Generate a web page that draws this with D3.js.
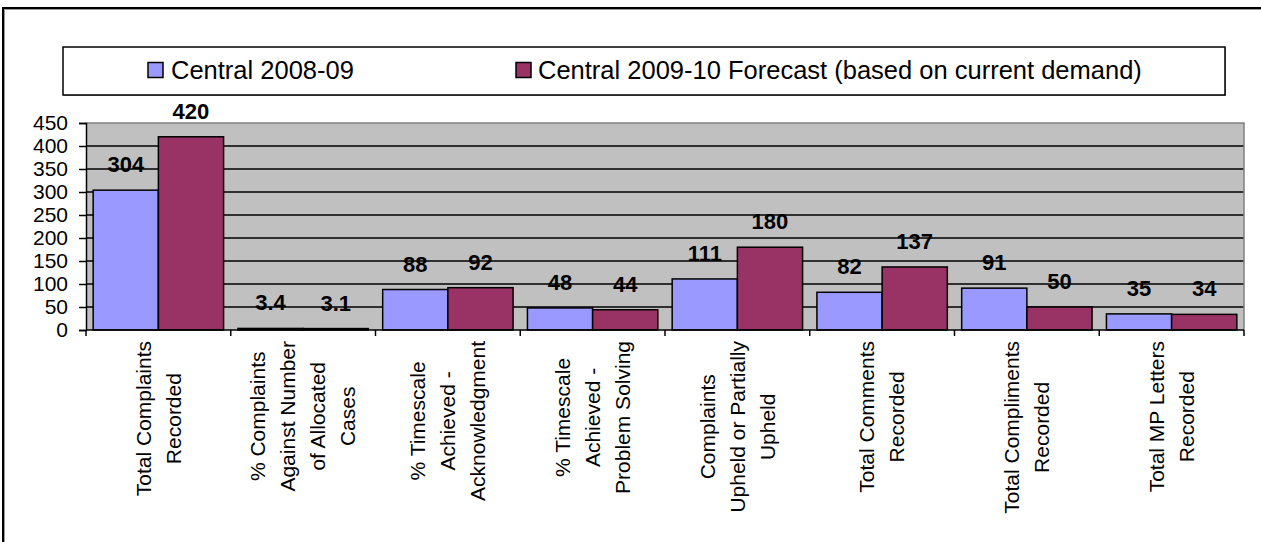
<!DOCTYPE html>
<html>
<head>
<meta charset="utf-8">
<script src="https://cdn.jsdelivr.net/npm/d3@7"></script>
<style>
  body { margin: 0; background: #fff; }
  svg { display: block; font-family: Arial, "Liberation Sans", sans-serif; }
</style>
</head>
<body>
<svg id="chart" width="1261" height="542"></svg>
<script>
const categories = [
    ['Total Complaints', 'Recorded'],
    ['% Complaints', 'Against Number', 'of Allocated', 'Cases'],
    ['% Timescale', 'Achieved -', 'Acknowledgment'],
    ['% Timescale', 'Achieved -', 'Problem Solving'],
    ['Complaints', 'Upheld or Partially', 'Upheld'],
    ['Total Comments', 'Recorded'],
    ['Total Compliments', 'Recorded'],
    ['Total MP Letters', 'Recorded']
];
const seriesNames = ['Central 2008-09', 'Central 2009-10 Forecast (based on current demand)'];
const central0809 = [304, 3.4, 88, 48, 111, 82, 91, 35];
const central0910 = [420, 3.1, 92, 44, 180, 137, 50, 34];
const yTicks = [0, 50, 100, 150, 200, 250, 300, 350, 400, 450];
const colors = ['#9999FF', '#993366'];

const svg = d3.select('#chart');

const plot = {left: 86, right: 1244, top: 123, bottom: 330};

// outer chart frame (only top/left edges fall inside the window)
svg.append('rect')
    .attr('x', 4).attr('y', 9)
    .attr('width', 1400).attr('height', 700)
    .attr('fill', 'none').attr('stroke', '#999').attr('stroke-width', 2);
svg.append('rect')
    .attr('x', 3).attr('y', 8)
    .attr('width', 1400).attr('height', 700)
    .attr('fill', 'none').attr('stroke', '#000').attr('stroke-width', 2);

const x = d3.scaleBand()
    .domain(d3.range(categories.length))
    .range([plot.left, plot.right])
    .paddingInner(0).paddingOuter(0);

const xs = d3.scaleBand()
    .domain([0, 1])
    .range([0, x.bandwidth()])
    .paddingInner(0).paddingOuter(0.11);

const y = d3.scaleLinear()
    .domain([0, 450])
    .range([plot.bottom, plot.top]);

// plot background
svg.append('rect')
    .attr('x', plot.left).attr('y', plot.top)
    .attr('width', plot.right - plot.left)
    .attr('height', plot.bottom - plot.top)
    .attr('fill', '#C0C0C0');

// gridlines
svg.append('g')
    .selectAll('line')
    .data(yTicks.filter(d => d > 0 && d < 450))
    .enter()
    .append('line')
    .attr('x1', plot.left).attr('x2', plot.right)
    .attr('y1', d => y(d)).attr('y2', d => y(d))
    .attr('stroke', '#000').attr('stroke-width', 1.5);

// plot border top / right
svg.append('path')
    .attr('d', `M${plot.left},${plot.top}H${plot.right}V${plot.bottom}`)
    .attr('fill', 'none').attr('stroke', '#808080').attr('stroke-width', 1.5);

// bars
const rows = categories.map((c, i) => [central0809[i], central0910[i]]);
const groups = svg.append('g')
    .selectAll('g')
    .data(rows)
    .enter()
    .append('g')
    .attr('transform', (d, i) => `translate(${x(i)},0)`);

groups.selectAll('rect')
    .data(d => d)
    .enter()
    .append('rect')
    .attr('x', (d, j) => xs(j))
    .attr('y', d => y(d))
    .attr('width', xs.bandwidth())
    .attr('height', d => y(0) - y(d))
    .attr('fill', (d, j) => colors[j])
    .attr('stroke', '#000')
    .attr('stroke-width', 1.5);

groups.selectAll('text')
    .data(d => d)
    .enter()
    .append('text')
    .attr('x', (d, j) => xs(j) + xs.bandwidth() / 2)
    .attr('y', d => y(d) - 18)
    .attr('text-anchor', 'middle')
    .attr('font-size', 22)
    .attr('font-weight', 'bold')
    .text(d => d);

// y axis
const yAxis = d3.axisLeft(y)
    .tickValues(yTicks)
    .tickSize(7)
    .tickPadding(11);

svg.append('g')
    .attr('transform', `translate(${plot.left},0)`)
    .call(yAxis)
    .call(g => g.select('.domain').attr('stroke', '#000').attr('stroke-width', 1.5))
    .call(g => g.selectAll('.tick line').attr('stroke', '#000').attr('stroke-width', 1.5))
    .call(g => g.selectAll('.tick text')
        .attr('font-size', 21)
        .attr('font-family', 'Arial, "Liberation Sans", sans-serif')
        .attr('fill', '#000'));

// x axis: ticks at category boundaries
const xAxisG = svg.append('g');
xAxisG.append('line')
    .attr('x1', plot.left).attr('x2', plot.right)
    .attr('y1', plot.bottom).attr('y2', plot.bottom)
    .attr('stroke', '#000').attr('stroke-width', 1.5);
xAxisG.selectAll('line.tick')
    .data(d3.range(categories.length + 1))
    .enter()
    .append('line')
    .attr('class', 'tick')
    .attr('x1', i => i < categories.length ? x(i) : plot.right)
    .attr('x2', i => i < categories.length ? x(i) : plot.right)
    .attr('y1', plot.bottom).attr('y2', plot.bottom + 6)
    .attr('stroke', '#000').attr('stroke-width', 1.5);

// rotated category labels
const lineGap = 30;
const labels = xAxisG.selectAll('g.cat')
    .data(categories)
    .enter()
    .append('g')
    .attr('class', 'cat');

labels.each(function(lines, i) {
    const g = d3.select(this);
    const n = lines.length;
    const t = g.append('text')
        .attr('text-anchor', 'middle')
        .attr('font-size', 21)
        .attr('fill', '#000');
    t.selectAll('tspan')
        .data(lines)
        .enter()
        .append('tspan')
        .attr('x', 0)
        .attr('y', (d, k) => (k - (n - 1) / 2) * lineGap)
        .attr('dy', '0.35em')
        .text(d => d);
    let maxLen = 0;
    t.selectAll('tspan').each(function() {
        maxLen = Math.max(maxLen, this.getComputedTextLength());
    });
    const cx = x(i) + x.bandwidth() / 2;
    const cy = plot.bottom + 11 + maxLen / 2;
    g.attr('transform', `translate(${cx},${cy}) rotate(-90)`);
});

// legend
const legend = svg.append('g');
legend.append('rect')
    .attr('x', 64).attr('y', 48)
    .attr('width', 1162).attr('height', 48)
    .attr('fill', '#999');
legend.append('rect')
    .attr('x', 63).attr('y', 47)
    .attr('width', 1162).attr('height', 48)
    .attr('fill', '#fff').attr('stroke', '#000').attr('stroke-width', 1.5);

const swatchX = [148, 516];
const labelX = [171, 538];
const items = legend.selectAll('g.item')
    .data(seriesNames)
    .enter()
    .append('g')
    .attr('class', 'item');
items.append('rect')
    .attr('x', (d, i) => swatchX[i]).attr('y', 62.5)
    .attr('width', 15).attr('height', 15)
    .attr('fill', (d, i) => colors[i])
    .attr('stroke', '#000').attr('stroke-width', 1.5);
items.append('text')
    .attr('x', (d, i) => labelX[i]).attr('y', 79)
    .attr('font-size', 25.5)
    .attr('fill', '#000')
    .text(d => d);
</script>
</body>
</html>
